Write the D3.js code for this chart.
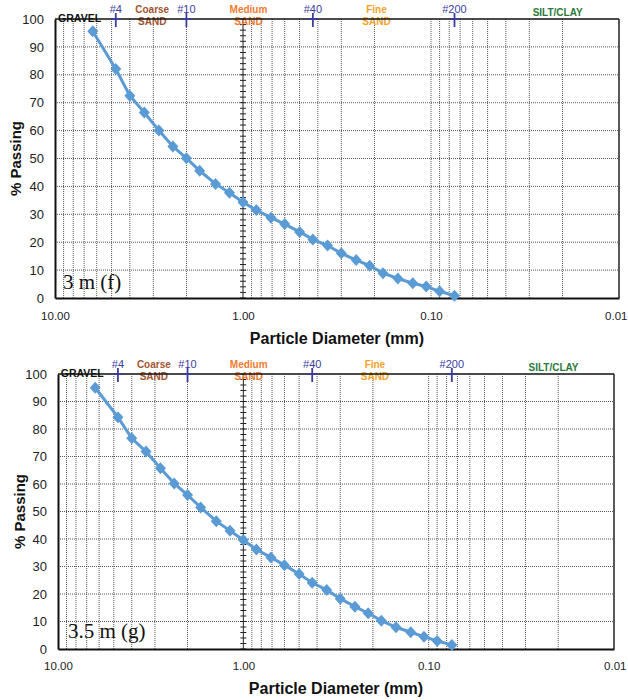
<!DOCTYPE html>
<html>
<head>
<meta charset="utf-8">
<script src="https://cdn.jsdelivr.net/npm/d3@7"></script>
<style>
  html, body { margin: 0; padding: 0; background: #fff; }
  svg { display: block; font-family: "Liberation Sans", Arial, sans-serif; }
</style>
</head>
<body>
<svg id="chart" width="628" height="700"></svg>
<script>
// ---------- DATA ----------
const diameters = [6.3, 4.75, 4.0, 3.35, 2.8, 2.36, 2.0, 1.7, 1.4, 1.18, 1.0, 0.85, 0.71, 0.6, 0.5, 0.425, 0.355, 0.3, 0.25, 0.212, 0.18, 0.15, 0.125, 0.106, 0.09, 0.075];
const passingF = [95.6, 82.1, 72.5, 66.5, 60.0, 54.3, 50.1, 45.6, 40.9, 37.7, 34.3, 31.5, 28.8, 26.5, 23.7, 21.0, 18.8, 16.0, 13.6, 11.6, 8.9, 7.0, 5.3, 4.1, 2.4, 0.8];
const passingG = [95.0, 84.3, 76.6, 71.8, 65.7, 60.2, 56.0, 51.5, 46.5, 43.0, 39.6, 36.2, 33.3, 30.5, 27.3, 24.1, 21.5, 18.3, 15.4, 13.0, 10.3, 7.9, 6.1, 4.5, 2.9, 1.5];
const sampleLabels = ["3 m (f)", "3.5 m (g)"];
const yTickValues = [0, 10, 20, 30, 40, 50, 60, 70, 80, 90, 100];
const xTickValues = [10, 1, 0.1, 0.01];
const xTickLabels = ["10.00", "1.00", "0.10", "0.01"];
const sieveNames = ["#4", "#10", "#40", "#200"];
const sieveSizes = [4.75, 2.0, 0.425, 0.075];
const zoneNames = [["GRAVEL"], ["Coarse", "SAND"], ["Medium", "SAND"], ["Fine", "SAND"], ["SILT/CLAY"]];
const zoneDiameters = [7.4, 3.04, 0.935, 0.195, 0.0212];
const zoneColors = ["#111111", "#a3532f", "#f07a32", "#f5a12a", "#2b7a3b"];
const xTitle = "Particle Diameter (mm)";
const yTitle = "% Passing";

// ---------- DRAW ----------
const svg = d3.select("#chart");
const lineColor = "#5b9bd5";
const sieveColor = "#3d3d9c";
const gridColor = "#555";
const W = 628;

function drawChart(cfg, values, sample) {
  const g = svg.append("g");
  const x = d3.scaleLog().domain([10, 0.01]).range([cfg.left, cfg.right]);
  const y = d3.scaleLinear().domain([0, 100]).range([cfg.bottom, cfg.top]);

  // vertical grid (log minor + majors)
  const vLines = [];
  [1, 0.1, 0.01].forEach(dec => {
    for (let k = 9; k >= 1; k--) {
      const v = dec * k;
      if (v < 10 && v > 0.01) vLines.push(v);
    }
  });
  g.append("g").selectAll("line").data(vLines.filter(v => Math.abs(v - 1) > 1e-9)).join("line")
    .attr("x1", d => x(d)).attr("x2", d => x(d))
    .attr("y1", cfg.top).attr("y2", cfg.bottom)
    .attr("stroke", gridColor).attr("stroke-width", 1).attr("stroke-dasharray", "1,1");

  // horizontal grid
  g.append("g").selectAll("line").data(yTickValues.filter(v => v > 0 && v < 100)).join("line")
    .attr("x1", cfg.left).attr("x2", cfg.right)
    .attr("y1", d => y(d)).attr("y2", d => y(d))
    .attr("stroke", gridColor).attr("stroke-width", 1).attr("stroke-dasharray", "1,1");

  // solid line at 1.00 with minor ticks
  g.append("line")
    .attr("x1", x(1)).attr("x2", x(1)).attr("y1", cfg.top).attr("y2", cfg.bottom)
    .attr("stroke", "#222").attr("stroke-width", 1);
  g.append("g").selectAll("line").data(d3.range(0, 101, 2)).join("line")
    .attr("x1", x(1) - 3).attr("x2", x(1) + 3)
    .attr("y1", d => y(d)).attr("y2", d => y(d))
    .attr("stroke", "#222").attr("stroke-width", 1);

  // zone labels
  zoneNames.forEach((lines, i) => {
    const t = g.append("text")
      .attr("x", x(zoneDiameters[i]))
      .attr("text-anchor", "middle")
      .attr("font-size", 10).attr("font-weight", "bold")
      .attr("fill", zoneColors[i]);
    if (lines.length === 2) {
      t.append("tspan").attr("x", x(zoneDiameters[i])).attr("y", cfg.top - 6).text(lines[0]);
      t.append("tspan").attr("x", x(zoneDiameters[i])).attr("y", cfg.top + 6).text(lines[1]);
    } else if (i === 0) {
      t.attr("y", cfg.top + 3).attr("font-size", 10.5).text(lines[0]);
    } else {
      t.attr("y", cfg.top - 3).text(lines[0]);
    }
  });

  // border / axes lines
  g.append("line").attr("x1", cfg.left).attr("x2", cfg.right).attr("y1", cfg.top).attr("y2", cfg.top)
    .attr("stroke", "#111").attr("stroke-width", 1.5);
  g.append("line").attr("x1", cfg.right).attr("x2", cfg.right).attr("y1", cfg.top).attr("y2", cfg.bottom)
    .attr("stroke", "#222").attr("stroke-width", 1.5);

  // y axis
  const yAxis = d3.axisLeft(y).tickValues(yTickValues).tickSize(0).tickPadding(cfg.yPad);
  const ya = g.append("g").attr("transform", `translate(${cfg.left},0)`).call(yAxis);
  ya.select(".domain").attr("stroke", "#111").attr("stroke-width", 2);
  ya.selectAll("text").attr("font-size", 13).attr("fill", "#222")
    .attr("font-family", "'Liberation Sans', Arial, sans-serif");

  // x axis
  const xAxis = d3.axisBottom(x).tickValues(xTickValues).tickSize(0).tickPadding(cfg.xPad)
    .tickFormat((d, i) => xTickLabels[i]);
  const xa = g.append("g").attr("transform", `translate(0,${cfg.bottom})`).call(xAxis);
  xa.select(".domain").attr("stroke", "#111").attr("stroke-width", 2);
  xa.selectAll("text").attr("font-size", 11.5).attr("fill", "#222")
    .attr("font-family", "'Liberation Sans', Arial, sans-serif");
  // keep the last label inside the page
  xa.selectAll(".tick").filter(d => d === 0.01).select("text")
    .attr("text-anchor", "end")
    .attr("x", Math.min(12, W - 1 - cfg.right));

  // sieve markers
  sieveNames.forEach((name, i) => {
    const sx = x(sieveSizes[i]);
    g.append("line").attr("x1", sx).attr("x2", sx).attr("y1", cfg.top - 6).attr("y2", cfg.top + 8)
      .attr("stroke", sieveColor).attr("stroke-width", 1.8);
    g.append("line").attr("x1", sx - 5).attr("x2", sx + 5).attr("y1", cfg.top).attr("y2", cfg.top)
      .attr("stroke", sieveColor).attr("stroke-width", 1.8);
    g.append("text").attr("x", sx).attr("y", cfg.top - 6)
      .attr("text-anchor", "middle").attr("font-size", 11).attr("fill", sieveColor)
      .text(name);
  });

  // data line + markers
  const pts = diameters.map((d, i) => [d, values[i]]);
  g.append("path").datum(pts)
    .attr("d", d3.line().x(d => x(d[0])).y(d => y(d[1])))
    .attr("fill", "none").attr("stroke", lineColor).attr("stroke-width", 3);
  g.append("g").selectAll("path").data(pts).join("path")
    .attr("transform", d => `translate(${x(d[0])},${y(d[1])})`)
    .attr("d", "M0,-6L5.5,0L0,6L-5.5,0Z")
    .attr("fill", lineColor);

  // sample label
  g.append("text").attr("x", cfg.left + cfg.sampleDx).attr("y", cfg.bottom - cfg.sampleDy)
    .attr("font-family", "'Liberation Serif', 'Times New Roman', serif")
    .attr("font-size", 21).attr("fill", "#111").text(sample);

  // titles
  g.append("text").attr("x", (cfg.left + cfg.right) / 2).attr("y", cfg.bottom + cfg.titleDy)
    .attr("text-anchor", "middle").attr("font-size", 16).attr("font-weight", "bold").attr("fill", "#111")
    .text(xTitle);
  g.append("text")
    .attr("transform", `translate(${cfg.yTitleX},${(cfg.top + cfg.bottom) / 2}) rotate(-90)`)
    .attr("text-anchor", "middle").attr("font-size", 15).attr("font-weight", "bold").attr("fill", "#111")
    .text(yTitle);
}

drawChart({left: 55, right: 619, top: 19, bottom: 298, yPad: 11, xPad: 14, titleDy: 46, yTitleX: 21, sampleDx: 8, sampleDy: 9}, passingF, sampleLabels[0]);
drawChart({left: 58, right: 614, top: 374, bottom: 649, yPad: 11, xPad: 13, titleDy: 45, yTitleX: 25, sampleDx: 10, sampleDy: 11}, passingG, sampleLabels[1]);
</script>
</body>
</html>
